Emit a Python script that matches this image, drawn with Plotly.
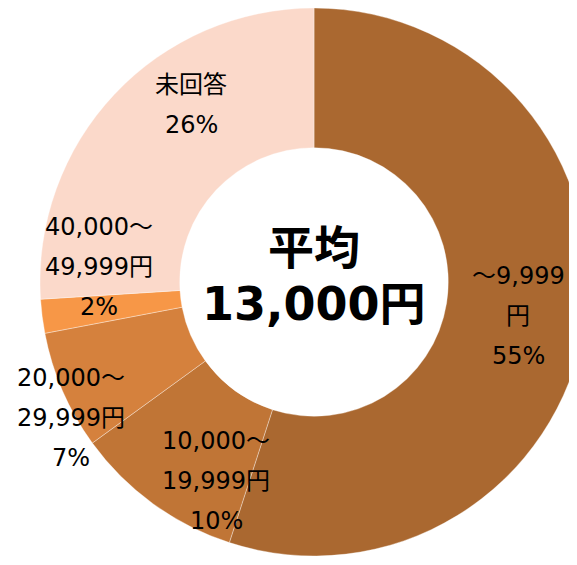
import plotly.graph_objects as go

# slices, clockwise from 12 o'clock
labels = ["～9,999円", "10,000～19,999円", "20,000～29,999円", "40,000～49,999円", "未回答"]
values = [55, 10, 7, 2, 26]
colors = ["#AA6830", "#C07536", "#D5813D", "#F79747", "#FBD9CA"]

# label text shown on the chart (lines)
label_lines = [
    ["～9,999", "円", "55%"],
    ["10,000～", "19,999円", "10%"],
    ["20,000～", "29,999円", "7%"],
    ["40,000～", "49,999円", "2%"],
    ["未回答", "26%"],
]
# label centre x / first-line y, in window pixels
label_pos = [(518, 276), (216, 441), (71, 378), (99, 227), (191, 85)]

center_lines = ["平均", "13,000円"]

# the page body has an 8px margin, so the figure is drawn 8px in from the window corner
OFF = 8
W, H = 590, 565
CX, CY, R = 314 - OFF, 282 - OFF, 274   # donut centre / radius in figure pixels
LINE_GAP = 40

fig = go.Figure()
fig.add_trace(go.Pie(
    labels=labels, values=values, sort=False, direction="clockwise",
    rotation=0, hole=0.49, textinfo="none", hoverinfo="label+percent",
    marker=dict(colors=colors, line=dict(color="rgba(255,255,255,0.6)", width=0.6)),
    domain=dict(x=[(CX - R) / W, (CX + R) / W], y=[1 - (CY + R) / H, 1 - (CY - R) / H]),
    showlegend=False,
))

font = "DejaVu Sans, Noto Sans CJK JP"


def px(x):
    return (x - OFF) / W


def py(y):
    return 1 - (y - OFF) / H


for lines, (x0, y0) in zip(label_lines, label_pos):
    for i, t in enumerate(lines):
        fig.add_annotation(
            text=t, x=px(x0), y=py(y0 + i * LINE_GAP),
            xref="paper", yref="paper", showarrow=False,
            xanchor="center", yanchor="middle",
            font=dict(family=font, size=24, color="#000000"),
        )

for i, t in enumerate(center_lines):
    fig.add_annotation(
        text="<b>%s</b>" % t, x=px(314), y=py(248 + i * 56),
        xref="paper", yref="paper", showarrow=False,
        xanchor="center", yanchor="middle",
        font=dict(family=font, size=46, color="#000000"),
    )

fig.update_layout(
    width=W, height=H,
    margin=dict(l=0, r=0, t=0, b=0),
    paper_bgcolor="white", plot_bgcolor="white",
)

fig.write_html("out.html")
